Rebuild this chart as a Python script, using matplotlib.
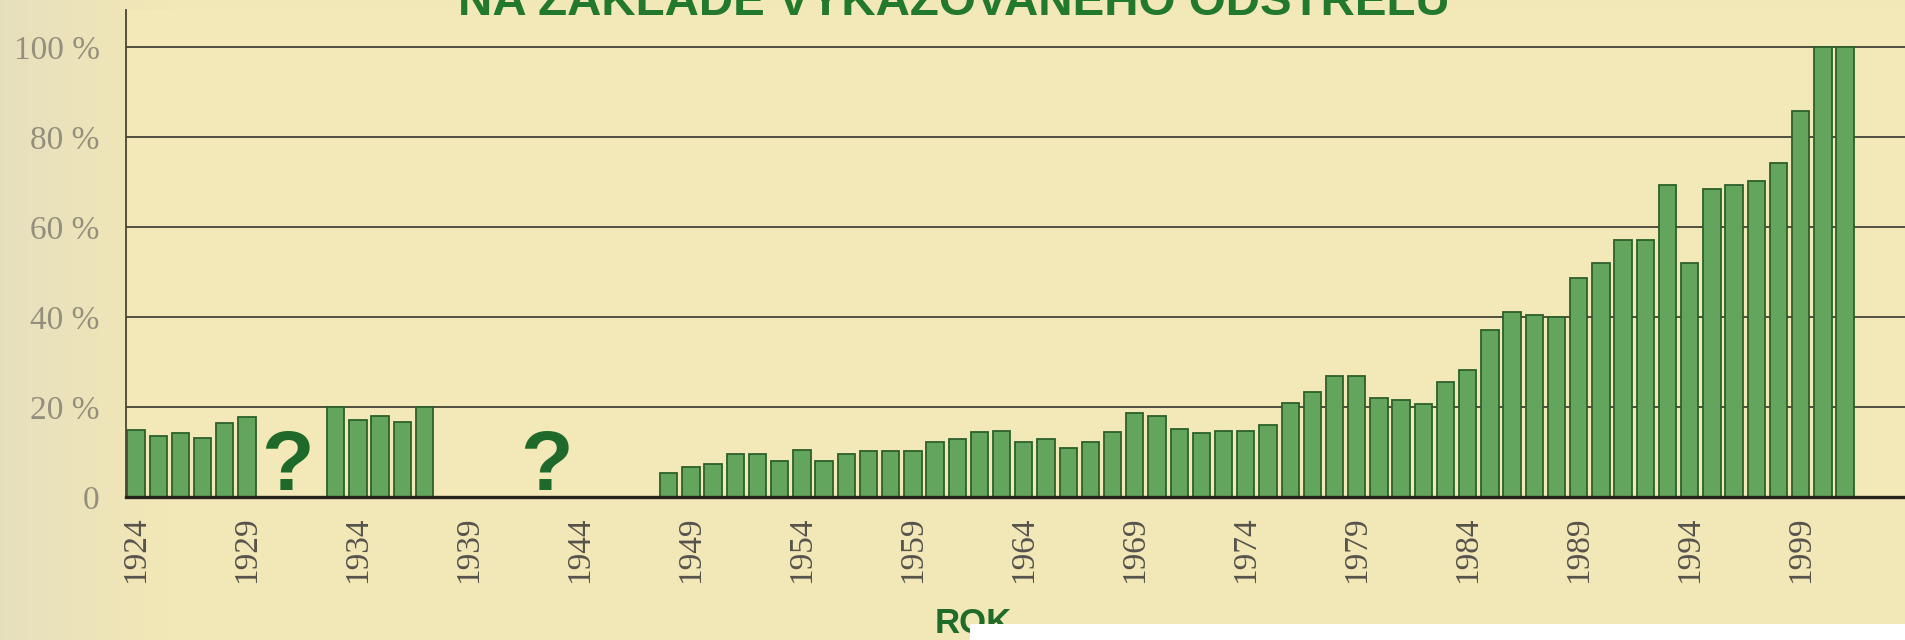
import numpy as np
import matplotlib
matplotlib.use("Agg")
import matplotlib.pyplot as plt
from matplotlib.patches import Rectangle

# Share of reported cull (%) by year
years_a = list(range(1924, 1930))
share_a = [14.9, 13.6, 14.2, 13.0, 16.4, 17.8]

years_b = list(range(1933, 1938))
share_b = [20.0, 17.2, 17.9, 16.6, 20.0]

years_c = list(range(1948, 2002))
share_c = [5.3, 6.6, 7.4, 9.5, 9.5, 8.1, 10.5, 8.1, 9.5, 10.2,
           10.2, 10.2, 12.3, 12.9, 14.4, 14.6, 12.2, 12.9, 10.8, 12.2,
           14.4, 18.7, 17.9, 15.0, 14.3, 14.7, 14.7, 16.0, 20.8, 23.4,
           26.8, 26.8, 22.0, 21.5, 20.6, 25.5, 28.2, 37.2, 41.1, 40.5,
           40.0, 48.6, 52.1, 57.0, 57.0, 69.4, 52.1, 68.5, 69.4, 70.2,
           74.3, 85.8, 100.0, 100.0]

# Gaps with no data
unknown_x = [1930.8, 1942.5]

tick_years = list(range(1924, 2000, 5))
y_ticks = [0, 20, 40, 60, 80, 100]
y_labels = ["0", "20 %", "40 %", "60 %", "80 %", "100 %"]

title = "NA ZÁKLADĚ VYKAZOVANÉHO ODSTŘELU"
xlabel = "ROK"

W, H = 1905, 640
fig = plt.figure(figsize=(W / 100, H / 100), dpi=100)
fig.patch.set_facecolor("#f2e7b6")

# slightly greyer paper tone on the left strip
bg = fig.add_axes([0, 0, 170 / W, 1], zorder=-5)
grad = np.linspace(0, 1, 256)[None, :]
c0 = np.array([0.905, 0.878, 0.745])
c1 = np.array([0.949, 0.906, 0.714])
img = c0[None, None, :] * (1 - grad[..., None]) + c1[None, None, :] * grad[..., None]
bg.imshow(img, aspect="auto", extent=[0, 1, 0, 1])
bg.set_axis_off()

ax = fig.add_axes([126 / W, 143 / H, 1 - 126 / W, (630 - 143) / H])
ax.set_facecolor("#f3e8b8")
ax.set_xlim(1923.55, 2003.7)
ax.set_ylim(0, 108.2)

for v in y_ticks[1:]:
    ax.axhline(v, color="#36342a", lw=1.2, zorder=1)

bar_kw = dict(width=0.78, color="#64a55d", edgecolor="#2c602b", linewidth=1.3, zorder=2)
ax.bar(years_a, share_a, **bar_kw)
ax.bar(years_b, share_b, **bar_kw)
ax.bar(years_c, share_c, **bar_kw)

for x in unknown_x:
    ax.text(x, 1.6, "?", ha="center", va="baseline", fontsize=62,
            fontweight="bold", color="#1f6a2a",
            family=["Liberation Sans Narrow", "Liberation Sans"], zorder=3)

for s in ("top", "right"):
    ax.spines[s].set_visible(False)
ax.spines["bottom"].set_linewidth(2.4)
ax.spines["bottom"].set_color("#25231b")
ax.spines["bottom"].set_zorder(4)
ax.spines["left"].set_linewidth(1.3)
ax.spines["left"].set_color("#4a4433")

ax.set_yticks(y_ticks)
ax.set_yticklabels(y_labels, family="Liberation Serif", fontsize=24, color="#948f7d")
ax.set_xticks(tick_years)
ax.set_xticklabels([str(y) for y in tick_years], rotation=90, family="Liberation Serif",
                   fontsize=24, color="#55534c")
ax.tick_params(axis="y", length=0, pad=19)
ax.tick_params(axis="x", length=0, pad=14)

fig.text(458 / W, 1 - 15 / H, title, ha="left", va="baseline", fontsize=34.2,
         fontweight="bold", color="#22782c", family="Liberation Sans")
fig.text(935 / W, 1 - 633 / H, xlabel, ha="left", va="baseline", fontsize=25,
         fontweight="bold", color="#1e6b2a", family="Liberation Sans")

fig.add_artist(Rectangle((970 / W, 0), 1, 16 / H, transform=fig.transFigure,
                         facecolor="white", edgecolor="none", zorder=10))

fig.savefig("out.png", dpi=100, facecolor=fig.get_facecolor())
